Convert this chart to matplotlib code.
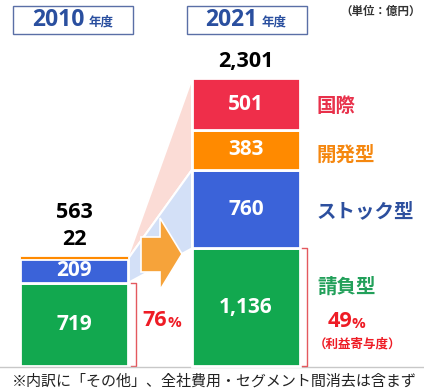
import matplotlib
matplotlib.use('Agg')
import matplotlib.pyplot as plt
import numpy as np
from matplotlib.transforms import Affine2D
from matplotlib.patches import Rectangle, Polygon

plt.rcParams['font.family'] = ['Open Sans', 'Noto Sans CJK JP', 'DejaVu Sans']
CJK = ['Noto Sans CJK JP', 'DejaVu Sans']

# ---- data ----
years = ['2010', '2021']
segments_2021 = ['請負型', 'ストック型', '開発型', '国際']
values_2010 = [719, 209, 22]
values_2021 = [1136, 760, 383, 501]
labels_2010 = ['719', '209', '']
labels_2021 = ['1,136', '760', '383', '501']
totals = ['563', '2,301']
others_2010 = '22'
shares = ['76', '49']
unit_label = '（単位：億円）'
note = '※内訳に「その他」、全社費用・セグメント間消去は含まず'

bar_colors = ['#12a84f', '#3b63d9', '#ff8a00', '#ef2e4a']
text_colors = ['#22a05a', '#2c4f9e', '#f5870f', '#e8314b']
pct_red = '#ee1c25'
navy = '#2a4f9f'

W, H = 424, 392
fig = plt.figure(figsize=(W / 100, H / 100), dpi=100)
PX = Affine2D().scale(1 / W, -1 / H).translate(0, 1) + fig.transFigure

base_px = 366
sL, sR = 0.1155, 0.1035
axL = fig.add_axes([0, 0, 1, 1])
axR = fig.add_axes([0, 0, 1, 1])
for ax, s in ((axL, sL), (axR, sR)):
    ax.set_xlim(0, W)
    ax.set_ylim(-(H - base_px) / s, base_px / s)
    ax.axis('off')
axR.patch.set_visible(False)

xL, xR, bw = 74, 246, 108

# ---- bars ----
botL = np.concatenate([[0], np.cumsum(values_2010)[:-1]])
botR = np.concatenate([[0], np.cumsum(values_2021)[:-1]])
for i, (v, b) in enumerate(zip(values_2010, botL)):
    lw = 2.0 if i < 2 else 0.6
    axL.bar(xL, v, bottom=b, width=bw, color=bar_colors[i], edgecolor='white',
            linewidth=lw, zorder=3)
    if labels_2010[i]:
        axL.text(xL, b + v / 2, labels_2010[i], ha='center', va='center',
                 color='white', fontsize=15, fontweight='bold', zorder=4)
for i, (v, b) in enumerate(zip(values_2021, botR)):
    axR.bar(xR, v, bottom=b, width=bw, color=bar_colors[i], edgecolor='white',
            linewidth=2.0, zorder=3)
    axR.text(xR, b + v / 2, labels_2021[i], ha='center', va='center',
             color='white', fontsize=15, fontweight='bold', zorder=4)

# ---- connecting wedges (in axL data coords) ----
def r2l(x, v):
    d = axR.transData.transform((x, v))
    return axL.transData.inverted().transform(d)

cumL = np.cumsum(values_2010)
cumR = np.cumsum(values_2021)
xe_l, xe_r = xL + bw / 2, xR - bw / 2
pink = [(xe_l, cumL[2]), tuple(r2l(xe_r, cumR[3])), tuple(r2l(xe_r, cumR[1])), (xe_l, cumL[1])]
blue = [(xe_l, cumL[1]), tuple(r2l(xe_r, cumR[1])), tuple(r2l(xe_r, cumR[0])), (xe_l, cumL[0])]
axL.add_patch(Polygon(pink, closed=True, facecolor='#fbdcd6', edgecolor='white',
                      linewidth=1.5, zorder=1))
axL.add_patch(Polygon(blue, closed=True, facecolor='#d3e0f7', edgecolor='white',
                      linewidth=1.5, zorder=1))

# ---- arrow ----
arrow = [(141, 237), (160, 237), (160, 218), (182, 254), (160, 290), (160, 272), (141, 272)]
axR.add_patch(Polygon(arrow, closed=True, transform=PX, facecolor='#f6a33a',
                      edgecolor='white', linewidth=1.2, zorder=2))

# ---- brackets ----
axL.plot([131, 136, 136, 131], [cumL[0], cumL[0], 0, 0], color='#e4595f', lw=1.0, zorder=3)
axR.plot([302, 307, 307, 302], [cumR[0], cumR[0], 0, 0], color='#e4595f', lw=1.0, zorder=3)

# ---- bottom rule ----
axR.plot([0, W], [367, 367], transform=PX, color='#c8c8c8', lw=1.0, zorder=1)

def t(x, y, s, **kw):
    kw.setdefault('ha', 'center')
    kw.setdefault('va', 'center')
    axR.text(x, y, s, transform=PX, **kw)

# ---- header boxes ----
for (bx, yr, cx) in ((13, years[0], 58), (187, years[1], 231)):
    axR.add_patch(Rectangle((bx, 6), 120, 28, transform=PX, facecolor='white',
                            edgecolor='#5a6fa6', linewidth=1.0, zorder=5))
    t(cx, 20, yr, color=navy, fontsize=16.5, fontweight='bold', zorder=6)
    t(cx + 43, 22, '年度', color=navy, fontsize=9, fontweight='bold', zorder=6,
      family=CJK)

t(421, 11, unit_label, ha='right', color='#333333', fontsize=8.3,
  fontweight='bold', family=CJK)

# ---- totals ----
t(xR, 62, totals[1], color='black', fontsize=15.5, fontweight='bold')
t(xL, 213, totals[0], color='black', fontsize=15.5, fontweight='bold')
t(xL, 240, others_2010, color='black', fontsize=15.5, fontweight='bold')

# ---- segment names ----
name_y = [287, 212, 155, 106]
for name, y, c in zip(segments_2021, name_y, text_colors):
    t(317, y, name, ha='left', color=c, fontsize=14, fontweight='bold', family=CJK)

# ---- shares ----
t(167, 321, shares[0], ha='right', color=pct_red, fontsize=15.5, fontweight='bold')
t(167, 323, '%', ha='left', color=pct_red, fontsize=11, fontweight='bold')
t(352, 322, shares[1], ha='right', color=pct_red, fontsize=15.5, fontweight='bold')
t(352, 324, '%', ha='left', color=pct_red, fontsize=11, fontweight='bold')
t(357, 344, '（利益寄与度）', color=pct_red, fontsize=9, fontweight='bold', family=CJK)

# ---- footnote ----
t(214, 381, note, color='#222222', fontsize=10.8, family=CJK)

fig.savefig('out.png', dpi=100)
